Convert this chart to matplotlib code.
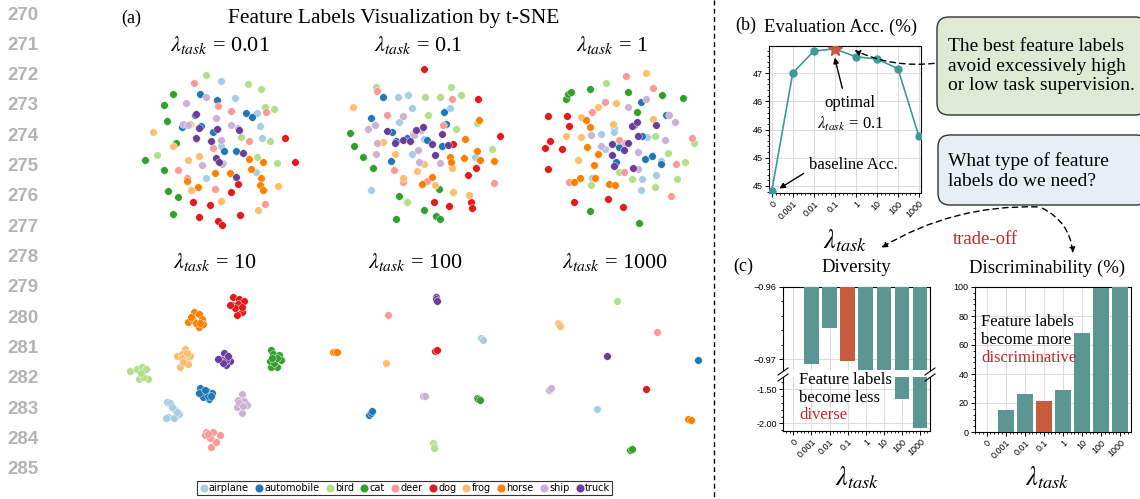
import numpy as np
import matplotlib
matplotlib.use("Agg")
import matplotlib.pyplot as plt
from matplotlib.lines import Line2D
from matplotlib.patches import FancyBboxPatch
from matplotlib.ticker import AutoMinorLocator, FixedLocator, FixedFormatter

W, H = 1140, 499
plt.rcParams['mathtext.fontset'] = 'stix'
plt.rcParams['font.family'] = ['Liberation Sans', 'DejaVu Sans']
SERIF = 'Liberation Serif'

# ---- data ----
classes = ['airplane', 'automobile', 'bird', 'cat', 'deer',
           'dog', 'frog', 'horse', 'ship', 'truck']
class_colors = ['#a6cee3', '#1f78b4', '#b2df8a', '#33a02c', '#fb9a99',
                '#e31a1c', '#fdbf6f', '#ff7f00', '#cab2d6', '#6a3d9a']
lambda_labels = ['0', '0.001', '0.01', '0.1', '1', '10', '100', '1000']
panel_lambdas = ['0.01', '0.1', '1', '10', '100', '1000']
acc = [44.91, 47.0, 47.39, 47.43, 47.29, 47.25, 47.08, 45.88]
acc_tick_labels = ['45', '45', '46', '46', '47']
diversity = [np.nan, -0.9706, -0.9657, -0.9702, -1.2, -1.2, -1.636, -2.073]
discrim = [0, 15.0, 26.1, 21.3, 28.9, 68.3, 99.6, 100]
best_idx = 3
line_numbers = list(range(270, 286))

# t-SNE embeddings (arbitrary units, y pointing down)
tsne_001 = {
    'airplane': [(287, 79), (329, 128), (396, 175), (404, 212), (410, 250), (289, 272), (293, 325), (393, 351), (242, 369), (280, 222)],
    'automobile': [(226, 117), (276, 136), (363, 174), (382, 185), (210, 179), (171, 217), (227, 212), (263, 230), (296, 289), (333, 289)],
    'bird': [(242, 60), (370, 87), (408, 101), (420, 157), (447, 163), (348, 247), (436, 257), (95, 300), (396, 305), (456, 324)],
    'cat': [(145, 116), (117, 151), (125, 199), (152, 265), (59, 315), (117, 345), (130, 408), (159, 426), (143, 476)],
    'deer': [(207, 84), (278, 153), (317, 168), (423, 172), (372, 257), (264, 278), (160, 345), (185, 370), (270, 402), (419, 447)],
    'dog': [(480, 250), (510, 321), (338, 387), (318, 412), (205, 442), (254, 449), (345, 481), (222, 487), (279, 497), (291, 511)],
    'frog': [(84, 232), (145, 273), (212, 252), (194, 207), (223, 304), (189, 314), (197, 406), (288, 439), (399, 464), (460, 392)],
    'horse': [(373, 312), (415, 320), (378, 342), (271, 354), (316, 354), (186, 377), (218, 395), (408, 369), (406, 389), (413, 404)],
    'ship': [(244, 125), (182, 145), (274, 189), (174, 208), (188, 210), (318, 211), (338, 219), (287, 254), (230, 329), (290, 327)],
    'truck': [(214, 177), (221, 218), (275, 222), (343, 225), (214, 249), (257, 257), (272, 308), (281, 322), (355, 293), (333, 365)],
}
tsne_01 = {
    'airplane': [(234, 125), (264, 120), (275, 159), (389, 159), (237, 200), (313, 251), (276, 297), (465, 306), (154, 406)],
    'automobile': [(188, 125), (372, 171), (153, 189), (379, 207), (217, 231), (229, 257), (262, 248), (322, 256), (366, 272), (213, 317)],
    'bird': [(168, 95), (393, 97), (422, 121), (314, 125), (360, 125), (323, 180), (409, 223), (470, 203), (517, 282), (262, 440)],
    'cat': [(91, 234), (103, 273), (128, 307), (159, 340), (238, 424), (357, 402), (311, 466), (228, 491), (347, 483), (360, 492)],
    'deer': [(170, 107), (396, 131), (201, 180), (369, 210), (280, 238), (221, 344), (248, 381), (321, 377), (522, 384)],
    'dog': [(312, 42), (473, 131), (541, 244), (398, 267), (467, 340), (444, 361), (343, 441), (388, 453), (453, 441), (456, 458)],
    'frog': [(98, 157), (188, 260), (224, 297), (311, 327), (290, 347), (397, 339), (250, 368), (346, 389), (398, 410), (446, 420)],
    'horse': [(477, 196), (435, 253), (472, 289), (391, 306), (394, 321), (432, 308), (479, 314), (521, 318), (335, 366), (307, 387)],
    'ship': [(249, 184), (143, 221), (166, 209), (302, 224), (283, 241), (170, 265), (169, 297), (294, 284), (296, 321), (360, 324)],
    'truck': [(201, 229), (287, 224), (309, 215), (365, 237), (248, 256), (226, 264), (270, 259), (337, 267), (383, 269), (345, 299)],
}
tsne_1 = {
    'airplane': [(312, 218), (312, 230), (272, 236), (410, 245), (285, 282), (453, 317), (439, 361), (397, 372), (392, 405), (247, 368)],
    'automobile': [(393, 140), (469, 179), (372, 209), (397, 243), (327, 277), (425, 303), (404, 313), (318, 322), (452, 328)],
    'bird': [(288, 84), (553, 265), (474, 293), (525, 322), (435, 243), (328, 352), (365, 371), (500, 371), (434, 397), (243, 391)],
    'cat': [(241, 102), (353, 110), (456, 120), (519, 130), (168, 133), (174, 116), (182, 112), (380, 170), (241, 467), (388, 504)],
    'deer': [(347, 64), (429, 99), (284, 140), (246, 171), (327, 254), (547, 249), (498, 326), (342, 350), (176, 382), (483, 424)],
    'dog': [(114, 184), (172, 184), (178, 212), (119, 257), (104, 279), (155, 282), (114, 343), (193, 442), (295, 433), (338, 455)],
    'frog': [(408, 53), (263, 157), (317, 144), (213, 185), (308, 207), (430, 193), (168, 242), (213, 245), (204, 315)],
    'horse': [(228, 195), (239, 217), (230, 276), (265, 297), (253, 329), (209, 369), (193, 380), (255, 369), (298, 387), (314, 389)],
    'ship': [(407, 132), (355, 156), (478, 179), (495, 201), (244, 240), (273, 273), (466, 256), (383, 290), (383, 341), (346, 264)],
    'truck': [(366, 212), (380, 202), (437, 209), (384, 243), (305, 266), (354, 264), (341, 285), (305, 300), (312, 334), (368, 339)],
}
tsne_10 = {
    'airplane': [(140, 366), (150, 368), (165, 390), (178, 402), (145, 410), (138, 415), (162, 415), (170, 395), (155, 380)],
    'automobile': [(240, 325), (247, 338), (262, 333), (276, 340), (268, 357), (250, 350), (263, 347), (237, 340), (255, 330), (272, 348)],
    'bird': [(31, 273), (52, 268), (66, 260), (78, 268), (57, 297), (83, 296), (68, 290), (62, 278)],
    'cat': [(452, 210), (460, 222), (476, 226), (484, 240), (472, 262), (452, 262), (450, 244), (462, 248), (470, 235), (456, 233)],
    'deer': [(257, 455), (280, 455), (255, 466), (300, 465), (270, 475), (287, 485), (274, 502), (265, 463)],
    'dog': [(340, 50), (357, 57), (372, 62), (336, 74), (353, 73), (366, 97), (352, 106), (345, 84), (365, 80), (330, 75)],
    'frog': [(196, 207), (170, 227), (187, 222), (210, 228), (194, 241), (203, 251), (180, 262), (186, 235), (200, 218), (190, 247)],
    'horse': [(222, 97), (238, 103), (205, 126), (218, 119), (245, 117), (236, 140), (250, 131), (229, 130), (214, 110), (241, 128)],
    'ship': [(365, 343), (353, 360), (373, 362), (380, 374), (350, 380), (366, 400), (356, 370), (370, 378)],
    'truck': [(312, 220), (300, 236), (323, 230), (330, 244), (317, 256), (305, 240), (318, 240), (325, 227), (310, 250), (295, 237)],
}
tsne_100 = {
    'airplane': [(484, 175), (488, 179)],
    'automobile': [(147, 404), (152, 399), (157, 394)],
    'bird': [(339, 490), (341, 497), (343, 504)],
    'cat': [(470, 353), (475, 356), (480, 360)],
    'deer': [(204, 104)],
    'dog': [(344, 212), (350, 210)],
    'frog': [(199, 250)],
    'horse': [(38, 217), (45, 217), (52, 217)],
    'ship': [(310, 348), (316, 348)],
    'truck': [(348, 51), (349, 57), (350, 63)],
}
tsne_1000 = {
    'airplane': [(232, 388)],
    'automobile': [(535, 241)],
    'bird': [(291, 63)],
    'cat': [(331, 510), (335, 508)],
    'deer': [(411, 157)],
    'dog': [(377, 326)],
    'frog': [(113, 128), (117, 133), (121, 138)],
    'horse': [(503, 417), (512, 419)],
    'ship': [(87, 331), (93, 325)],
    'truck': [(260, 229)],
}


def rect(x0, y0, x1, y1):
    return [x0 / W, 1 - y1 / H, (x1 - x0) / W, (y1 - y0) / H]


def style(ax):
    for s in ax.spines.values():
        s.set_linewidth(0.8)
    ax.tick_params(which='major', length=3, width=0.7, labelsize=6.5, pad=1.5)
    ax.tick_params(which='minor', length=1.6, width=0.6)
    ax.grid(True, which='major', color='#dcdcdc', lw=0.7)
    ax.set_axisbelow(True)


fig = plt.figure(figsize=(W / 100, H / 100), dpi=100)

# ---- (a) t-SNE panels ----
panels = [
    (tsne_001, (125, 55, 315, 240), 570, 555),
    (tsne_01, (320, 55, 510, 240), 570, 555),
    (tsne_1, (510, 55, 710, 240), 600, 555),
    (tsne_10, (120, 280, 310, 455), 570, 525),
    (tsne_100, (320, 280, 510, 455), 570, 525),
    (tsne_1000, (520, 280, 710, 455), 570, 525),
]
for emb, r, xm, ym in panels:
    ax = fig.add_axes(rect(*r))
    for name, col in zip(classes, class_colors):
        pts = np.array(emb[name], dtype=float)
        ax.scatter(pts[:, 0], pts[:, 1], s=30, color=col, edgecolor='white', linewidth=0.3)
    ax.set_xlim(0, xm)
    ax.set_ylim(ym, 0)
    ax.axis('off')

handles = [Line2D([], [], marker='o', ls='', color=c, markersize=4.8) for c in class_colors]
fig.legend(handles, classes, loc='center', bbox_to_anchor=(404.5 / W, 1 - 488 / H), ncol=10,
           prop={'family': 'DejaVu Sans', 'size': 7}, frameon=True, fancybox=False,
           edgecolor='black', handletextpad=0.05, columnspacing=0.55, handlelength=1.0,
           borderpad=0.2, borderaxespad=0)
fig.legends[0].get_frame().set_linewidth(0.8)

x = np.arange(len(lambda_labels))
teal_line = '#3a9b95'
teal_bar = '#5b9692'
red = '#c65b3d'

# ---- (b) evaluation accuracy ----
axb = fig.add_axes(rect(769, 46, 921, 193))
style(axb)
axb.plot(x, acc, color=teal_line, lw=1.2, marker='o', markersize=5, zorder=3)
axb.plot(x[best_idx], acc[best_idx], marker='*', markersize=11, color=red, zorder=4, ls='')
axb.set_xlim(-0.13, 7.1)
axb.set_ylim(44.876, 47.48)
axb.yaxis.set_major_locator(FixedLocator([45, 45.5, 46, 46.5, 47]))
axb.yaxis.set_major_formatter(FixedFormatter(acc_tick_labels))
axb.yaxis.set_minor_locator(AutoMinorLocator(5))
axb.set_xticks(x)
axb.set_xticklabels(lambda_labels, rotation=45, ha='right', rotation_mode='anchor')
axb.xaxis.set_minor_locator(AutoMinorLocator(5))

# ---- (c) diversity (broken axis) ----
axu = fig.add_axes(rect(783, 287, 930, 370))
axl = fig.add_axes(rect(783, 377, 930, 431))
bar_colors = [red if i == best_idx else teal_bar for i in range(len(x))]
for ax in (axu, axl):
    style(ax)
    ax.bar(x, diversity, width=0.8, color=bar_colors, zorder=3)
    ax.set_xlim(-0.57, 7.55)
    ax.set_xticks(x)
    ax.xaxis.set_minor_locator(AutoMinorLocator(5))
axu.set_ylim(-0.97145, -0.96)
axu.yaxis.set_major_locator(FixedLocator([-0.97, -0.96]))
axu.yaxis.set_major_formatter(FixedFormatter(['\u22120.97', '\u22120.96']))
axu.yaxis.set_minor_locator(AutoMinorLocator(5))
axu.spines['bottom'].set_visible(False)
axu.tick_params(axis='x', which='both', bottom=False, labelbottom=False)
axl.set_ylim(-2.112, -1.32)
axl.yaxis.set_major_locator(FixedLocator([-2.0, -1.5]))
axl.yaxis.set_major_formatter(FixedFormatter(['-2.00', '-1.50']))
axl.yaxis.set_minor_locator(AutoMinorLocator(5))
axl.spines['top'].set_visible(False)
axl.set_xticklabels(lambda_labels, rotation=45, ha='right', rotation_mode='anchor')

# ---- (c) discriminability ----
axd = fig.add_axes(rect(975, 287, 1131, 432))
style(axd)
axd.bar(x, discrim, width=0.84, color=bar_colors, zorder=3)
axd.set_xlim(-0.61, 7.57)
axd.set_ylim(0, 100)
axd.set_yticks([0, 20, 40, 60, 80, 100])
axd.yaxis.set_minor_locator(AutoMinorLocator(5))
axd.set_xticks(x)
axd.set_xticklabels(lambda_labels, rotation=45, ha='right', rotation_mode='anchor')
axd.xaxis.set_minor_locator(AutoMinorLocator(5))

# ---- overlay for text, boxes and arrows (pixel coordinates) ----
ov = fig.add_axes([0, 0, 1, 1], zorder=10)
ov.set_xlim(0, W)
ov.set_ylim(H, 0)
ov.axis('off')
ov.patch.set_alpha(0)

for i, n in enumerate(line_numbers):
    ov.text(7, 15 + i * 30.33, str(n), ha='left', va='center', fontsize=13.5,
            color='#b4b4b4', family='Liberation Sans', fontweight='bold')

ov.plot([714, 714], [0, H], color='black', lw=1.0, dashes=(3.5, 2.5))

sf = dict(family=SERIF)
ov.text(121, 18, '(a)', fontsize=13, ha='left', va='center', **sf)
ov.text(394, 18, 'Feature Labels Visualization by t-SNE', fontsize=15.5, ha='center', va='center', **sf)
title_pos = [(220, 45), (418, 45), (612, 45), (215, 262), (415, 262), (615, 262)]
for lam, (tx, ty) in zip(panel_lambdas, title_pos):
    ov.text(tx, ty, r'$\lambda_{task}$ = ' + lam, fontsize=16, ha='center', va='center', **sf)

ov.text(735, 25, '(b)', fontsize=13, ha='left', va='center', **sf)
ov.text(841, 27, 'Evaluation Acc. (%)', fontsize=13.5, ha='center', va='center', **sf)
ov.text(845, 241, r'$\lambda_{task}$', fontsize=19, ha='center', va='center', **sf)
ov.text(850, 114, 'optimal\n' + r'$\lambda_{task}$ = 0.1', fontsize=12, ha='center', va='center',
        linespacing=1.2, **sf)
ov.annotate('', xy=(834, 55), xytext=(843, 91),
            arrowprops=dict(arrowstyle='-|>', color='black', lw=1.0, mutation_scale=8))
ov.text(853, 165, 'baseline Acc.', fontsize=12, ha='center', va='center', **sf)
ov.annotate('', xy=(777, 190), xytext=(806, 172),
            arrowprops=dict(arrowstyle='-|>', color='black', lw=1.0, mutation_scale=8))

ov.add_patch(FancyBboxPatch((937, 17), 210, 98, boxstyle='round,pad=0,rounding_size=12',
                            fc='#dfe9d5', ec='#333333', lw=1.0))
ov.text(948, 66, 'The best feature labels\navoid excessively high\nor low task supervision.',
        fontsize=14, ha='left', va='center', linespacing=1.2, **sf)
ov.annotate('', xy=(852, 49), xytext=(937, 63),
            arrowprops=dict(arrowstyle='-|>', color='black', lw=1.0, ls=(0, (4, 3)),
                            mutation_scale=8, connectionstyle='arc3,rad=-0.15'))

ov.add_patch(FancyBboxPatch((938, 135), 210, 70, boxstyle='round,pad=0,rounding_size=12',
                            fc='#e9eef6', ec='#333333', lw=1.0))
ov.text(948, 171, 'What type of feature\nlabels do we need?',
        fontsize=14, ha='left', va='center', linespacing=1.25, **sf)
ov.annotate('', xy=(879, 249), xytext=(1040, 207),
            arrowprops=dict(arrowstyle='-|>', color='black', lw=1.0, ls=(0, (4, 3)),
                            mutation_scale=8, connectionstyle='arc3,rad=0.15'))
ov.annotate('', xy=(1073, 256), xytext=(1040, 207),
            arrowprops=dict(arrowstyle='-|>', color='black', lw=1.0, ls=(0, (4, 3)),
                            mutation_scale=8, connectionstyle='arc3,rad=-0.3'))
ov.text(985, 240, 'trade-off', fontsize=13.5, color='#c0282d', ha='center', va='center', **sf)

ov.text(733, 266, '(c)', fontsize=13, ha='left', va='center', **sf)
ov.text(856, 268, 'Diversity', fontsize=13.5, ha='center', va='center', **sf)
ov.text(1047, 268, 'Discriminability (%)', fontsize=13.5, ha='center', va='center', **sf)
ov.text(857, 478, r'$\lambda_{task}$', fontsize=19, ha='center', va='center', **sf)
ov.text(1047, 478, r'$\lambda_{task}$', fontsize=19, ha='center', va='center', **sf)

ov.text(799, 389, 'Feature labels\nbecome less', fontsize=12, ha='left', va='center',
        linespacing=1.1, **sf)
ov.text(799, 415, 'diverse', fontsize=12, ha='left', va='center', color='#c0282d', **sf)
ov.text(981, 331, 'Feature labels\nbecome more', fontsize=12, ha='left', va='center',
        linespacing=1.1, **sf)
ov.text(981, 358, 'discriminative', fontsize=12, ha='left', va='center', color='#c0282d', **sf)

# break marks between the two diversity axes
for bx in (783, 930):
    ov.plot([bx - 5, bx + 5], [375, 368], color='black', lw=0.8)
    ov.plot([bx - 5, bx + 5], [381, 374], color='black', lw=0.8)

fig.savefig('out.png', dpi=100)
